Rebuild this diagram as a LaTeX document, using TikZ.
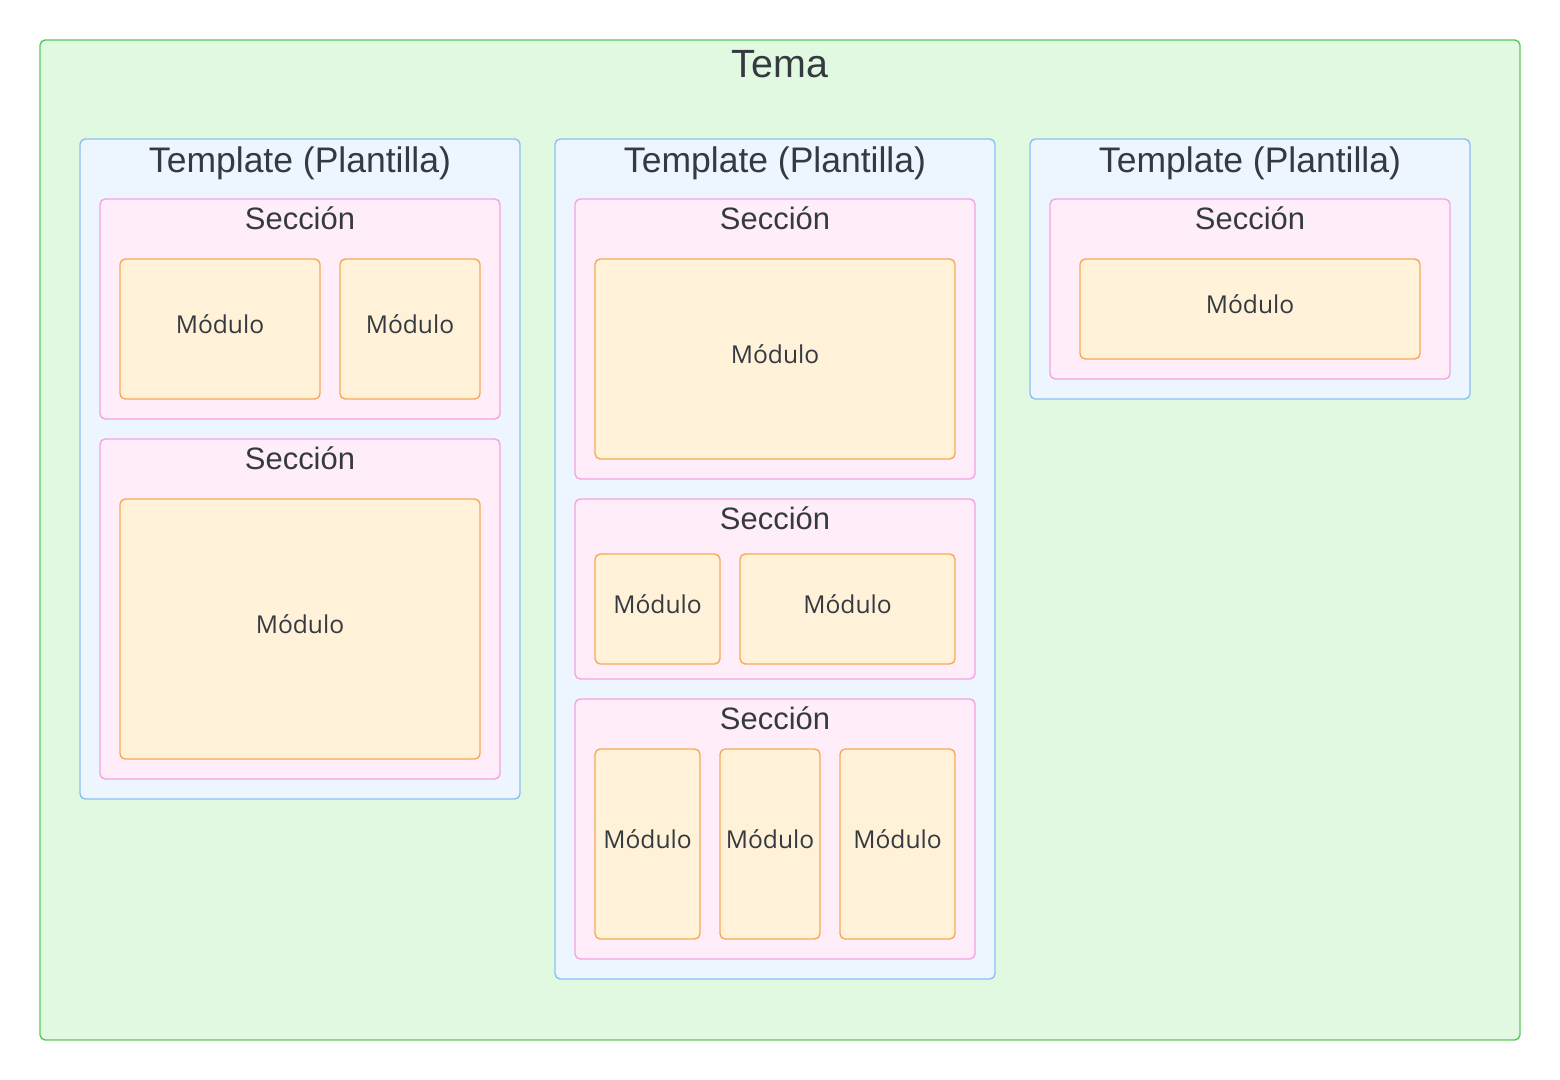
\documentclass[tikz,border=0pt]{standalone}
\usepackage{fontspec}
\setmainfont{Liberation Sans}
\newfontfamily\modfont{Open Sans}
\usetikzlibrary{fit, positioning}
\definecolor{temafill}{HTML}{E2F9E1}
\definecolor{temadraw}{HTML}{5CC95C}
\definecolor{tplfill}{HTML}{EDF5FF}
\definecolor{tpldraw}{HTML}{8CC0F5}
\definecolor{secfill}{HTML}{FFEEFA}
\definecolor{secdraw}{HTML}{F5A3E2}
\definecolor{modfill}{HTML}{FFF2D9}
\definecolor{moddraw}{HTML}{F7AA55}
\definecolor{ink}{HTML}{343A40}

\begin{document}
\begin{tikzpicture}[x=0.01cm, y=-0.01cm, line width=0.4pt,
  temabox/.style={fill=temafill, draw=temadraw, rounded corners=1.5pt, inner sep=0pt},
  tplbox/.style={fill=tplfill, draw=tpldraw, rounded corners=1.5pt, inner sep=0pt},
  secbox/.style={fill=secfill, draw=secdraw, rounded corners=1.5pt, inner sep=0pt},
  modbox/.style={fill=modfill, draw=moddraw, rounded corners=1.5pt, inner sep=0pt},
  modtext/.style={text=ink, font=\modfont\fontsize{7}{8}\selectfont, inner sep=0pt},
  bigtitle/.style={text=ink, font=\fontsize{11.2}{13}\selectfont, inner sep=0pt},
  tpltitle/.style={text=ink, font=\fontsize{10.1}{12}\selectfont, inner sep=0pt},
  sectitle/.style={text=ink, font=\fontsize{8.8}{10}\selectfont, inner sep=0pt}
]
\useasboundingbox (0,0) rectangle (1560,1080);

% Tema
\node[temabox, fit={(40,40) (1520,1040)}] (tema) {};
\node[bigtitle, yshift=-0.25cm] (tematitle) at (tema.north) {Tema};

% Templates
\node[tplbox, fit={(80,139) (520,799)}] (tpla) {};
\node[tplbox, fit={(555,139) (995,979)}] (tplb) {};
\node[tplbox, fit={(1030,139) (1470,399)}] (tplc) {};
\foreach \t in {tpla, tplb, tplc}
  \node[tpltitle, yshift=-0.25cm] (\t title) at (\t.north) {Template (Plantilla)};

% Secciones, template A
\node[secbox, fit={(100,199) (500,419)}] (seca1) {};
\node[secbox, fit={(100,439) (500,779)}] (seca2) {};
% Secciones, template B
\node[secbox, fit={(575,199) (975,479)}] (secb1) {};
\node[secbox, fit={(575,499) (975,679)}] (secb2) {};
\node[secbox, fit={(575,699) (975,959)}] (secb3) {};
% Seccion, template C
\node[secbox, fit={(1050,199) (1450,379)}] (secc1) {};

\foreach \s in {seca1, seca2, secb1, secb2, secb3, secc1}
  \node[sectitle, yshift=-0.20cm] (\s title) at (\s.north) {Sección};

% Modulos
\node[modbox, fit={(120,259) (320,399)}] (moda1) {};
\node[modbox, fit={(340,259) (480,399)}] (moda2) {};
\node[modbox, fit={(120,499) (480,759)}] (moda3) {};
\node[modbox, fit={(595,259) (955,459)}] (modb1) {};
\node[modbox, fit={(595,554) (720,664)}] (modb2) {};
\node[modbox, fit={(740,554) (955,664)}] (modb3) {};
\node[modbox, fit={(595,749) (700,939)}] (modb4) {};
\node[modbox, fit={(720,749) (820,939)}] (modb5) {};
\node[modbox, fit={(840,749) (955,939)}] (modb6) {};
\node[modbox, fit={(1080,259) (1420,359)}] (modc1) {};

\foreach \m in {moda1, moda2, moda3, modb1, modb2, modb3, modb4, modb5, modb6, modc1}
  \node[modtext, yshift=0.045cm] (\m text) at (\m.center) {Módulo};

\end{tikzpicture}
\end{document}
